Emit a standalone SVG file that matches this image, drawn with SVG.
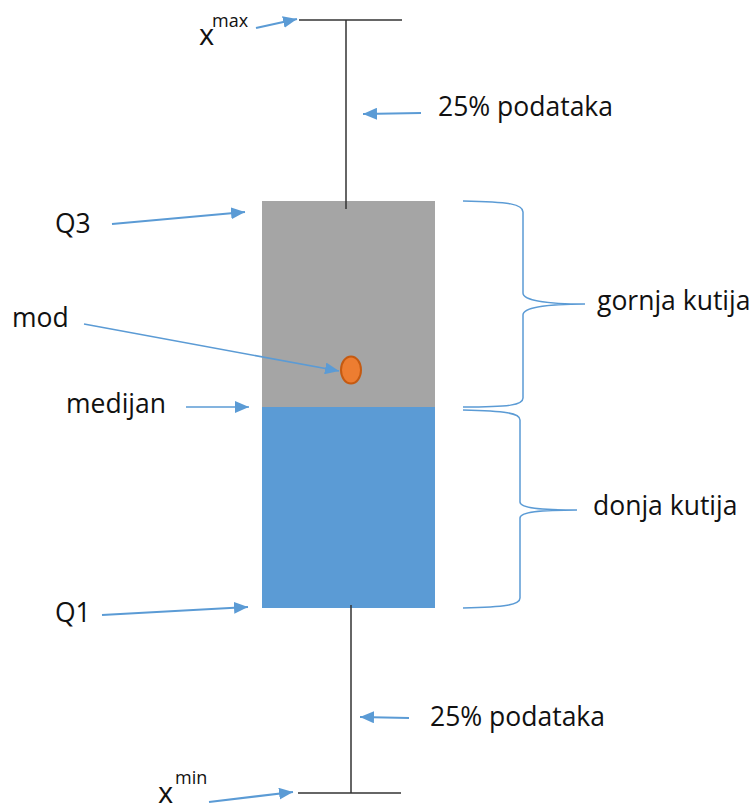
<svg xmlns="http://www.w3.org/2000/svg" width="755" height="805" viewBox="0 0 755 805">
<defs>
<marker id="ah" viewBox="0 0 14 12" refX="14" refY="6" markerWidth="14" markerHeight="12" markerUnits="userSpaceOnUse" orient="auto">
<path d="M0,0 L14,6 L0,12 z" fill="#5B9BD5"/>
</marker>
</defs>
<style>
.t{font-family:"Open Sans","Noto Sans",sans-serif;font-size:26.5px;fill:#111}
.x{font-family:"Open Sans","Noto Sans",sans-serif;font-size:29px;fill:#111}
.s{font-family:"Open Sans","Noto Sans",sans-serif;font-size:18px;fill:#111}
.a{stroke:#5B9BD5;stroke-width:2.2;fill:none;marker-end:url(#ah)}
.a1{stroke:#5B9BD5;stroke-width:1.6;fill:none;marker-end:url(#ah)}
.w{stroke:#333;stroke-width:1.5;fill:none}
.b{stroke:#5B9BD5;stroke-width:1.5;fill:none}
</style>
<rect width="755" height="805" fill="#fff"/>
<g id="box">
<rect x="262" y="201" width="173" height="206" fill="#A5A5A5"/>
<rect x="262" y="407" width="173" height="201" fill="#5B9BD5"/>
</g>
<g id="whiskers">
<line class="w" x1="299" y1="20" x2="402" y2="20"/>
<line class="w" x1="346" y1="20" x2="346" y2="209"/>
<line class="w" x1="351" y1="605" x2="351" y2="793"/>
<line class="w" x1="298" y1="793" x2="401" y2="793"/>
</g>
<g id="mode">
<ellipse cx="351" cy="370" rx="10" ry="13.5" fill="#ED7D31" stroke="#C55A11" stroke-width="2"/>
</g>
<g id="braces">
<path class="b" d="M463,201 C510,202 523,204 523,212 L523,293 C523,300 545,304 585,304 C545,304 523,308 523,315 L523,398 C523,405 510,407 463,407"/>
<path class="b" d="M463,410 C505,411 520,413 520,420 L520,502 C520,508 540,510 577,510 C540,510 520,512 520,518 L520,598 C520,605 505,607 463,608"/>
</g>
<g id="connectors">
<line class="a" x1="256" y1="28" x2="297" y2="19"/>
<line class="a" x1="421" y1="113" x2="363" y2="114"/>
<line class="a" x1="112" y1="224" x2="245" y2="212"/>
<line class="a1" x1="84" y1="324" x2="339" y2="371"/>
<line class="a1" x1="186" y1="407" x2="249" y2="407"/>
<line class="a" x1="102" y1="615" x2="248" y2="607"/>
<line class="a" x1="409" y1="718" x2="360" y2="717"/>
<line class="a" x1="209" y1="802" x2="293" y2="792"/>
</g>
<g id="labels">
<text class="x" x="199" y="45">x</text><text class="s" x="212" y="27">max</text>
<text class="t" x="438" y="116">25% podataka</text>
<text class="t" x="55" y="233">Q3</text>
<text class="t" x="12" y="327">mod</text>
<text class="t" x="66" y="413">medijan</text>
<text class="t" x="597" y="310">gornja kutija</text>
<text class="t" x="593" y="515">donja kutija</text>
<text class="t" x="55" y="622">Q1</text>
<text class="t" x="430" y="726">25% podataka</text>
<text class="x" x="158" y="803">x</text><text class="s" x="175" y="784">min</text>
</g>
</svg>
